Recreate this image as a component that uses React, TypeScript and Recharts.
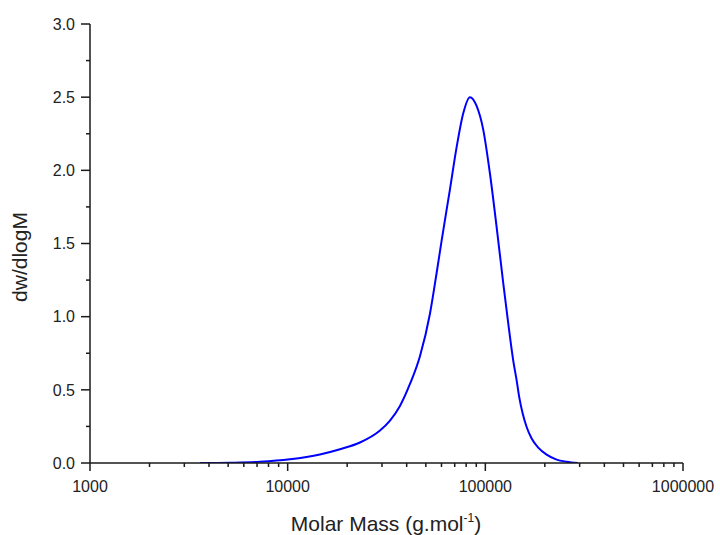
import React from 'react';
import { LineChart, Line, XAxis, YAxis } from 'recharts';

const molarMass = [3600, 5100, 7240, 10270, 14560, 18390, 23220, 29310, 32930, 36990, 41560, 46690, 52460, 56720, 60100, 66220, 71610, 77320, 83560, 90310, 97520, 105460, 116200, 123200, 130600, 138400, 144000, 148400, 154400, 161800, 171500, 185200, 204200, 229500, 257800, 294000];
const dwdlogM = [0, 0.002, 0.008, 0.025, 0.058, 0.094, 0.14, 0.222, 0.29, 0.39, 0.54, 0.73, 1.02, 1.30, 1.52, 1.87, 2.16, 2.39, 2.50, 2.44, 2.28, 1.98, 1.52, 1.23, 0.954, 0.70, 0.565, 0.45, 0.34, 0.246, 0.167, 0.105, 0.057, 0.023, 0.009, 0];

const xTicks = [1000, 2000, 3000, 4000, 5000, 6000, 7000, 8000, 9000, 10000, 20000, 30000, 40000, 50000, 60000, 70000, 80000, 90000, 100000, 200000, 300000, 400000, 500000, 600000, 700000, 800000, 900000, 1000000];
const xMajor = [1000, 10000, 100000, 1000000];
const yTicks = [0, 0.25, 0.5, 0.75, 1, 1.25, 1.5, 1.75, 2, 2.25, 2.5, 2.75, 3];
const yMajor = [0, 0.5, 1, 1.5, 2, 2.5, 3];

const data = molarMass.map((m, i) => ({ m, v: dwdlogM[i] }));

const FONT = '"Liberation Sans", Arial, Helvetica, sans-serif';
const AX = '#1a1a1a';

const XTick = (props: any) => {
  const { x, y, payload } = props;
  const major = xMajor.includes(payload.value);
  return (
    <g>
      <line x1={x} x2={x} y1={y} y2={y + (major ? 8 : 4)} stroke={AX} strokeWidth={1.5} />
      {major && (
        <text x={x} y={y + 29} textAnchor="middle" fontSize={16} fontFamily={FONT} fill="#222">
          {payload.value}
        </text>
      )}
    </g>
  );
};

const YTick = (props: any) => {
  const { x, y, payload } = props;
  const major = yMajor.includes(payload.value);
  return (
    <g>
      <line x1={x} x2={x - (major ? 9 : 4)} y1={y} y2={y} stroke={AX} strokeWidth={1.5} />
      {major && (
        <text x={x - 15} y={y} dy="0.36em" textAnchor="end" fontSize={16} fontFamily={FONT} fill="#222">
          {payload.value.toFixed(1)}
        </text>
      )}
    </g>
  );
};

const YTitle = () => (
  <text x={27} y={257} transform="rotate(-90 27 257)" textAnchor="middle" fontSize={21} fontFamily={FONT} fill="#222">
    dw/dlogM
  </text>
);

const XTitle = () => (
  <text x={386} y={531} textAnchor="middle" fontSize={21} fontFamily={FONT} fill="#222">
    Molar Mass (g.mol
    <tspan dy={-9} fontSize={12}>-1</tspan>
    <tspan dy={9}>)</tspan>
  </text>
);

export default function App() {
  return (
    <div style={{ position: 'absolute', left: 0, top: 0, width: 720, height: 535, background: '#fff' }}>
      <LineChart width={720} height={535} data={data} margin={{ top: 24, right: 37, bottom: 0, left: 0 }}>
        <XAxis
          dataKey="m"
          type="number"
          scale="log"
          domain={[1000, 1000000]}
          allowDataOverflow
          ticks={xTicks}
          interval={0}
          tickSize={0}
          tickMargin={0}
          tickLine={false}
          tick={<XTick />}
          height={72}
          axisLine={{ stroke: AX, strokeWidth: 1.5 }}
          label={{ content: () => <XTitle /> }}
        />
        <YAxis
          type="number"
          domain={[0, 3]}
          allowDataOverflow
          ticks={yTicks}
          interval={0}
          tickSize={0}
          tickMargin={0}
          tickLine={false}
          tick={<YTick />}
          width={90}
          axisLine={{ stroke: AX, strokeWidth: 1.5 }}
          label={{ content: () => <YTitle /> }}
        />
        <Line
          type="monotone"
          dataKey="v"
          stroke="#0000ff"
          strokeWidth={2}
          dot={false}
          isAnimationActive={false}
        />
      </LineChart>
    </div>
  );
}
